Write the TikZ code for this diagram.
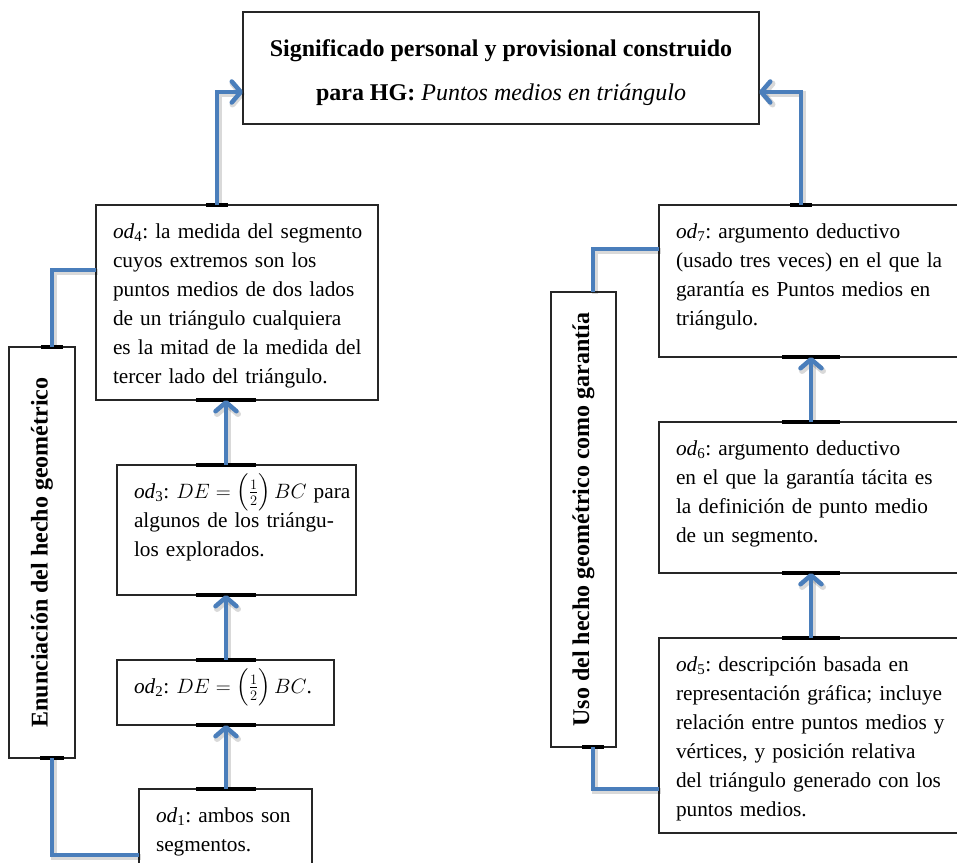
\documentclass[tikz,border=0pt]{standalone}
\usepackage{amsmath}
\usepackage{fontspec}
\setmainfont{Liberation Serif}
\usetikzlibrary{arrows.meta,calc}
\definecolor{azul}{RGB}{74,126,187}
\newcommand{\marca}[2]{\draw[marca] ($(#1)+(-#2,0)$) -- ($(#1)+(#2,0)$)}
\frenchspacing

\begin{document}
\begin{tikzpicture}[x=1pt,y=-1pt,
  caja/.style={draw=black!85,line width=1.3pt,anchor=north west,inner sep=0pt,outer sep=0pt,
    align=left,text height=33pt,font=\fontsize{21.3}{29}\selectfont,
    execute at begin node={\leftskip=17pt\relax}},
  eje/.style={draw=black!85,line width=1.3pt,anchor=north west,inner sep=0pt,outer sep=0pt,
    font=\fontsize{24}{44}\selectfont\bfseries},
  con/.style={azul,line width=4.5pt,
    preaction={draw=black,opacity=0.15,line width=6pt,transform canvas={shift={(1.5pt,-2pt)}}}},
  flecha/.style={con,-{Straight Barb[round,length=9pt,width=21pt]}},
  marca/.style={black,line width=3.5pt}
  ]
  \clip (0,0) rectangle (957,862);

  \node[eje,minimum width=516pt,minimum height=112pt,align=center] (tit) at (243,12)
    {\rule{0pt}{26pt}Significado personal y provisional construido\\para HG: \textit{\mdseries Puntos medios en triángulo}};

  % enunciacion
  \node[caja,text width=282pt,text depth=162pt] (od4) at (96,205)
    {\textit{od}\textsubscript{4}: la medida del segmento\\cuyos extremos son los\\puntos medios de dos lados\\de un triángulo cualquiera\\es la mitad de la medida del\\tercer lado del triángulo.};
  \node[caja,text width=239pt,text depth=97pt] (od3) at (117,465)
    {\textit{od}\textsubscript{3}: $DE = \Bigl(\frac{1}{2}\Bigr)\,BC$ para\\algunos de los triángu-\\los explorados.};
  \node[caja,text width=217pt,text depth=32pt] (od2) at (117,660)
    {\textit{od}\textsubscript{2}: $DE = \Bigl(\frac{1}{2}\Bigr)\,BC$.};
  \node[caja,text width=173pt,text depth=67pt] (od1) at (139,789)
    {\textit{od}\textsubscript{1}: ambos son\\segmentos.};
  \node[eje,minimum width=66pt,minimum height=411pt] (enun) at (9,347)
    {\rotatebox{90}{Enunciación del hecho geométrico}};

  % uso como garantia
  \node[caja,text width=310pt,text depth=119pt] (od7) at (659,205)
    {\textit{od}\textsubscript{7}: argumento deductivo\\(usado tres veces) en el que la\\garantía es Puntos medios en\\triángulo.};
  \node[caja,text width=310pt,text depth=118pt] (od6) at (659,422)
    {\textit{od}\textsubscript{6}: argumento deductivo\\en el que la garantía tácita es\\la definición de punto medio\\de un segmento.};
  \node[caja,text width=310pt,text depth=162pt] (od5) at (659,638)
    {\textit{od}\textsubscript{5}: descripción basada en\\representación gráfica; incluye\\relación entre puntos medios y\\vértices, y posición relativa\\del triángulo generado con los\\puntos medios.};
  \node[eje,minimum width=65pt,minimum height=455pt] (uso) at (551,292)
    {\rotatebox{90}{Uso del hecho geométrico como garantía}};

  \coordinate (izq) at (226,0);
  \coordinate (der) at (811,0);
  \coordinate (c4) at ($(od4.north west)+(121,0)$);
  \coordinate (c7) at ($(od7.north west)+(142,0)$);
  \coordinate (ca) at ($(enun.north west)+(43,0)$);
  \coordinate (cb) at ($(enun.south west)+(43,0)$);
  \coordinate (cc) at ($(uso.north west)+(42,0)$);
  \coordinate (cd) at ($(uso.south west)+(42,0)$);

  \foreach \p in {od1.north,od2.south,od2.north,od3.south,od3.north,od4.south}
    \marca{\p -| izq}{30};
  \foreach \p in {od5.north,od6.south,od6.north,od7.south}
    \marca{\p -| der}{29};
  \marca{c4}{11};
  \marca{c7}{11};
  \marca{ca}{11};
  \marca{cb}{12};
  \marca{cd}{11};

  \draw[flecha] (od1.north -| izq) -- (od2.south -| izq);
  \draw[flecha] (od2.north -| izq) -- (od3.south -| izq);
  \draw[flecha] (od3.north -| izq) -- (od4.south -| izq);
  \draw[flecha] (od5.north -| der) -- (od6.south -| der);
  \draw[flecha] (od6.north -| der) -- (od7.south -| der);

  \draw[flecha] (c4) |- ($(tit.north west)+(0,80)$);
  \draw[flecha] (c7) |- ($(tit.north east)+(0,80)$);
  \draw[con] (ca) |- ($(od4.north west)+(0,65)$);
  \draw[con] (cb) |- ($(od1.north west)+(0,66)$);
  \draw[con] (cc) |- ($(od7.north west)+(0,44)$);
  \draw[con] (cd) |- ($(od5.north west)+(0,151)$);
\end{tikzpicture}
\end{document}
